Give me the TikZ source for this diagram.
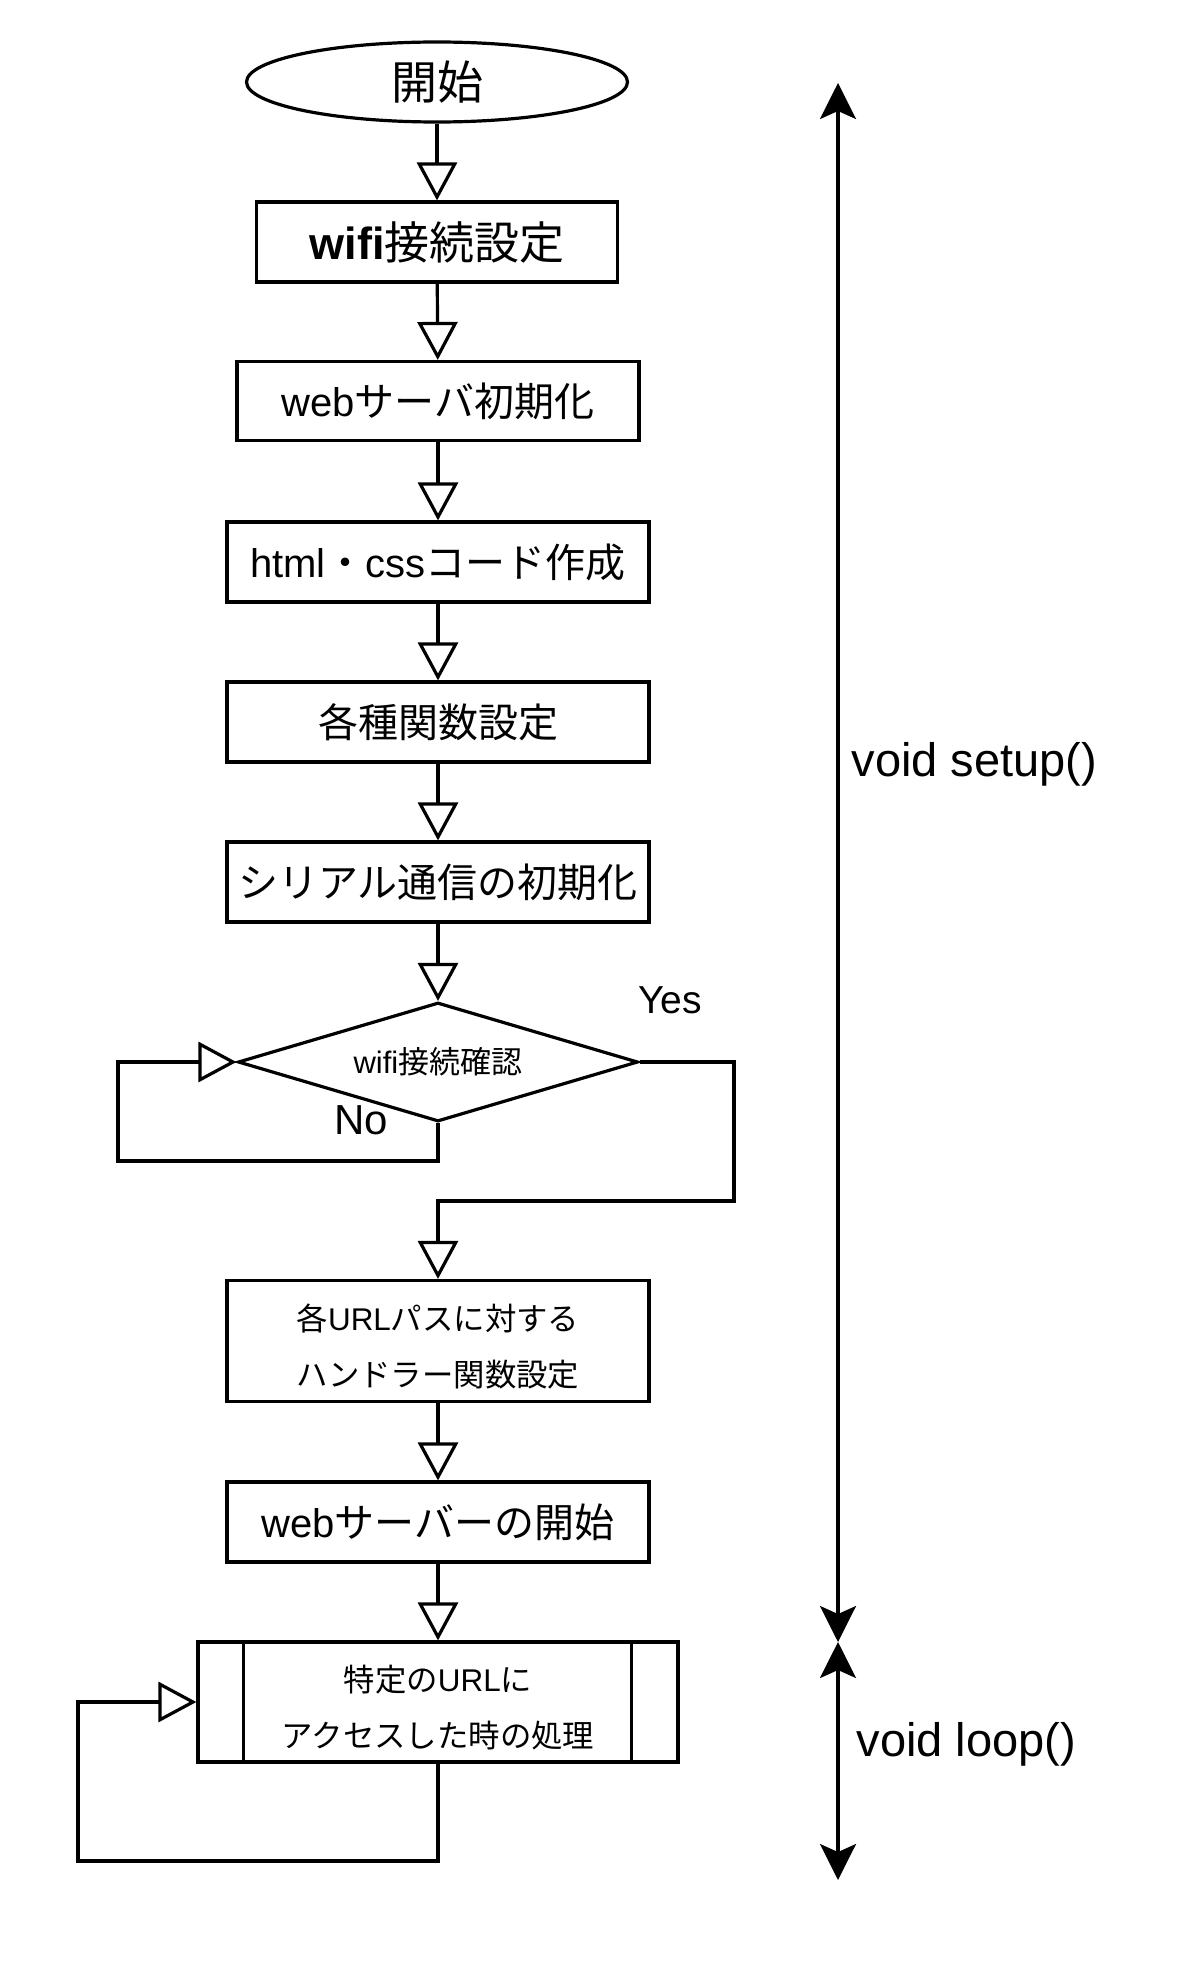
\documentclass[tikz,border=0pt]{standalone}
\usepackage{fontspec}
\setmainfont{Noto Sans CJK JP}
\newfontfamily\lat{Liberation Sans}
\usetikzlibrary{shapes.geometric,arrows.meta}
\begin{document}
\begin{tikzpicture}[x=0.5pt,y=-0.5pt,line width=1.6pt,
  box/.style={draw,rectangle,inner sep=0pt,align=center},
  flow/.style={-{Triangle[open,length=19pt,width=20pt,fill=white]}},
  span/.style={{Stealth[length=18pt,width=18pt,inset=4pt]}-{Stealth[length=18pt,width=18pt,inset=4pt]}},
  big/.style={font=\fontsize{20pt}{24pt}\selectfont},
  small/.style={font=\fontsize{15.7pt}{28pt}\selectfont,align=center,inner sep=0pt},
  lbl/.style={inner sep=0pt}]
\useasboundingbox (0,0) rectangle (1200,1964);

\node[draw,ellipse,inner sep=0pt,minimum width=190.5pt,minimum height=40pt,
      font=\fontsize{23pt}{26pt}\selectfont] (start) at (437,82) {開始};
\node[box,minimum width=180.5pt,minimum height=40pt,
      font=\fontsize{22.5pt}{26pt}\selectfont] (n1) at (437,242) {{\lat\bfseries wifi}接続設定};
\node[box,big,minimum width=201pt,minimum height=39.5pt] (n2) at (438,401) {{\lat web}サーバ初期化};
\node[box,big,minimum width=211pt,minimum height=40pt] (n3) at (438,562) {{\lat html}・{\lat css}コード作成};
\node[box,big,minimum width=211pt,minimum height=40pt] (n4) at (438,722) {各種関数設定};
\node[box,big,minimum width=211pt,minimum height=40pt] (n5) at (438,882) {シリアル通信の初期化};
\node[draw,diamond,inner sep=0pt,aspect=3.36,minimum width=200pt,minimum height=59.5pt,
      font=\fontsize{15.5pt}{18pt}\selectfont] (d) at (438,1062) {{\lat wifi}接続確認};
\node[box,minimum width=211pt,minimum height=60.5pt] (n6) at (438,1341) {};
\node[small] (n6t) at ([yshift=-3pt]n6.center) {各{\lat URL}パスに対する\\ハンドラー関数設定};
\node[box,big,minimum width=211pt,minimum height=40pt] (n7) at (438,1522) {{\lat web}サーバーの開始};
\node[box,minimum width=240pt,minimum height=60pt] (n8) at (438,1702) {};
\node[small] (n8t) at ([yshift=-3pt]n8.center) {特定の{\lat URL}に\\アクセスした時の処理};
\draw ([xshift=23.5pt]n8.north west) -- ([xshift=23.5pt]n8.south west);
\draw ([xshift=-24pt]n8.north east) -- ([xshift=-24pt]n8.south east);

\draw[flow] (start) -- (n1);
\draw[flow] (n1) -- (n2);
\draw[flow] (n2) -- (n3);
\draw[flow] (n3) -- (n4);
\draw[flow] (n4) -- (n5);
\draw[flow] (n5) -- (d.north);
\draw[flow] (d.south) -- (438,1161) -- (118,1161) |- (d.west);
\draw[flow] (d.east) -- (734,1062) -- (734,1201) -| (n6.north);
\draw[flow] (n6) -- (n7);
\draw[flow] (n7) -- (n8);
\draw[flow] (n8.south) -- (438,1861) -- (78,1861) |- (n8.west);

\node[lbl,font=\lat\fontsize{19.5pt}{22pt}\selectfont] (yes) at (670,1000) {Yes};
\node[lbl,font=\lat\fontsize{21pt}{24pt}\selectfont] (no) at (361,1120) {No};

\coordinate (s1) at (838,83);
\coordinate (s2) at (838,1642);
\coordinate (s3) at (838,1880);
\draw[span] (s1) -- (s2);
\draw[span] (s2) -- (s3);
\node[lbl,anchor=west,font=\lat\fontsize{23.5pt}{26pt}\selectfont] (setup) at (850,764) {void setup()};
\node[lbl,anchor=west,font=\lat\fontsize{23.5pt}{26pt}\selectfont] (loop) at (855,1744) {void loop()};
\end{tikzpicture}
\end{document}
